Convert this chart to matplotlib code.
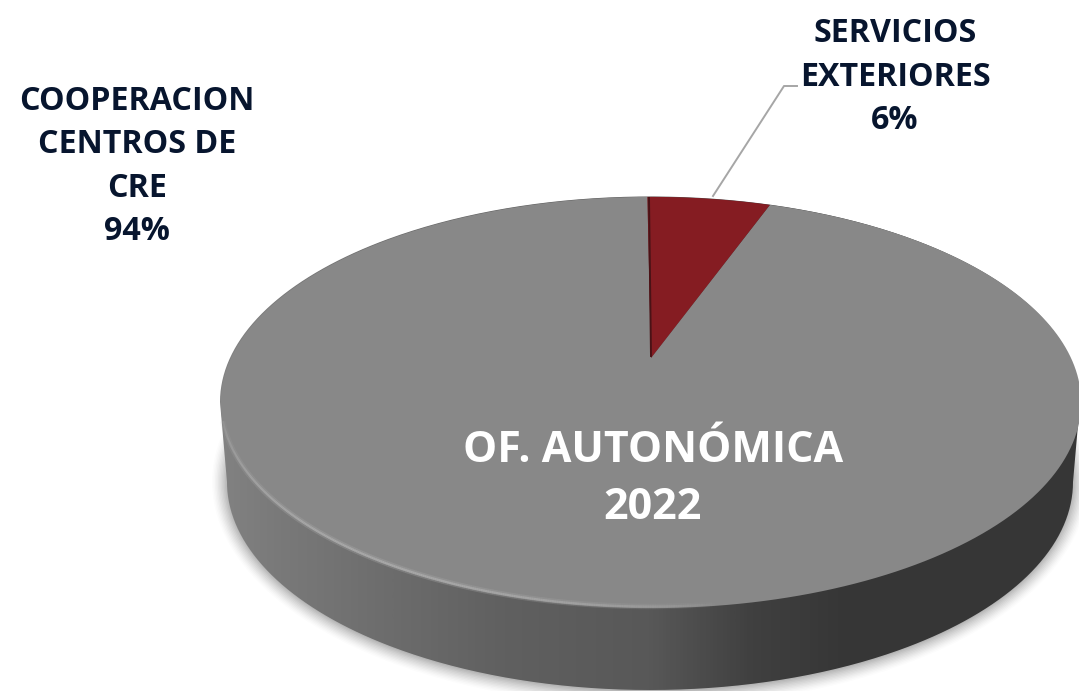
import numpy as np
import matplotlib
matplotlib.use("Agg")
import matplotlib.pyplot as plt
from matplotlib.collections import LineCollection
from matplotlib.colors import LinearSegmentedColormap
from matplotlib.patches import Ellipse, PathPatch
from matplotlib.path import Path
from matplotlib.transforms import Affine2D, Transform

plt.rcParams['font.family'] = ['Open Sans', 'DejaVu Sans']

# data
slice_names = ["SERVICIOS\nEXTERIORES", "COOPERACION\nCENTROS DE\nCRE"]
slice_labels = ["6%", "94%"]
slice_values = [5.7, 94.3]  # labels are rounded
slice_colors = ["#851c22", "#888888"]
chart_title = "OF. AUTONÓMICA\n2022"

W, H = 1079, 691
APEX_X, APEX_Y = 651, 358
PERSP = 0.2165


class PieTilt(Transform):
    # flat unit pie -> tilted disc in pixel coords
    input_dims = 2
    output_dims = 2

    def transform_non_affine(self, values):
        values = np.asarray(values, dtype=float)
        w = 1 + PERSP * values[:, 1]
        return np.column_stack([APEX_X + 420 * values[:, 0] / w,
                                APEX_Y - 196 * values[:, 1] / w])

    def transform_path_non_affine(self, path):
        # flatten the curves first, bezier control points do not survive a projective map
        scale = Affine2D().scale(1000)
        polys = path.to_polygons(scale, closed_only=False)
        return Path(self.transform_non_affine(polys[0] / 1000))


fig = plt.figure(figsize=(W / 100, H / 100), dpi=100)
ax = fig.add_axes([0, 0, 1, 1])

# drop shadow under the disc
for grow, a in zip(np.linspace(16, 0, 12), np.linspace(0.012, 0.05, 12)):
    ax.add_patch(Ellipse((650, 482), 2 * (422 + grow), 2 * (208 + grow), color="#000000",
                         alpha=a, lw=0, zorder=1))

# side wall of the disc with horizontal gradient
t = np.linspace(0, 2 * np.pi, 721)
top_x, top_y = 650 + 430 * np.cos(t), 402 + 205.5 * np.sin(t)
low_x, low_y = 650 + 423 * np.cos(t), 482 + 208 * np.sin(t)
lower = t <= np.pi
upper = t >= np.pi
wall = np.column_stack([np.r_[low_x[lower], top_x[upper]], np.r_[low_y[lower], top_y[upper]]])
wall_patch = PathPatch(Path(wall), fc="none", ec="none", transform=ax.transData)
ax.add_patch(wall_patch)
wall_cmap = LinearSegmentedColormap.from_list(
    "wall", [(0, "#828282"), (0.06, "#7a7a7a"), (0.2, "#6c6c6c"), (0.33, "#606060"),
             (0.5, "#585858"), (0.62, "#404040"), (0.72, "#373737"), (1, "#363636")])
grad = np.linspace(0, 1, 512).reshape(1, -1)
img = ax.imshow(grad, cmap=wall_cmap, extent=(220, 1079, H, 0), aspect="auto", zorder=2)
img.set_clip_path(wall_patch)

# pie top
wedges, _ = ax.pie(slice_values, colors=slice_colors, startangle=90.6, counterclock=False,
                   radius=1, wedgeprops={"linewidth": 0})
for w, z in zip(wedges, [5, 4]):
    w.set_transform(PieTilt() + ax.transData)
    w.set_zorder(z)

# bevel along the rim, bright on the lit side
rim_t = np.linspace(np.pi * 0.97, np.pi * 0.45, 300)
rim_x, rim_y = 650 + 429 * np.cos(rim_t), 402 + 204.5 * np.sin(rim_t)
pts = np.column_stack([rim_x, rim_y]).reshape(-1, 1, 2)
segs = np.concatenate([pts[:-1], pts[1:]], axis=1)
fade = np.clip(np.sin(np.linspace(0.15, np.pi, len(segs))) ** 0.6, 0, 1)
ax.add_collection(LineCollection(segs, colors=[(0.66, 0.66, 0.66, 0.35 * f) for f in fade],
                                 linewidths=4, zorder=6))
ax.add_collection(LineCollection(segs, colors=[(0.68, 0.68, 0.68, 0.8 * f) for f in fade],
                                 linewidths=1.6, zorder=6))

# dark edge of the red slice
ax.plot([649, 651], [198, 356], color="#4a1216", lw=1.4, zorder=6)

# leader line
ax.plot([713, 784, 797], [196, 86, 86], color="#a6a6a6", lw=1.4, zorder=3)

# labels
navy = "#07152e"
ax.text(895, 77, "%s\n%s" % (slice_names[0], slice_labels[0]), ha="center", va="center",
        fontsize=23.2, fontweight="bold", color=navy, linespacing=1.41, zorder=7)
ax.text(137, 166.5, "%s\n%s" % (slice_names[1], slice_labels[1]), ha="center", va="center",
        fontsize=23.2, fontweight="bold", color=navy, linespacing=1.41, zorder=7)
ax.text(653, 479, chart_title, ha="center", va="center", fontsize=31, fontweight="bold",
        color="white", linespacing=1.41, zorder=7)

ax.set_aspect("auto")
ax.set_xlim(0, W)
ax.set_ylim(H, 0)
ax.axis("off")

fig.savefig("out.png", dpi=100, facecolor="white")
